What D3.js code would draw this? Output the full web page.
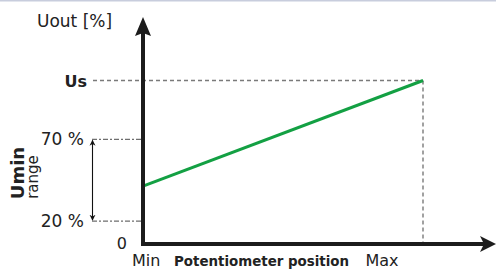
<!DOCTYPE html>
<html lang="en">
<head>
    <meta charset="UTF-8">
    <title>Uout vs potentiometer position</title>
    <script src="https://d3js.org/d3.v7.min.js"></script>
    <style>
        body { margin: 0; background: #fff; }
        svg { display: block; }
        svg text { font-family: "DejaVu Sans", "Liberation Sans", sans-serif; }
    </style>
</head>
<body>
    <svg id="chart" width="496" height="269"></svg>

    <script>
        // potentiometer position (0 = Min, 100 = Max) -> Uout in %
        let position = [0, 100];
        let uout = [41.4, 106];          // line starts at Umin, ends at Us
        let usLevel = 106;                // Us
        let rangeLevels = [70, 20];       // Umin range limits
        let rangeLabels = ["70 %", "20 %"];
        let xLabels = ["Min", "Max"];

        let svg = d3.select("#chart");
        let axisX = 143, axisY = 244;

        let x = d3.scaleLinear().domain([0, 100]).range([143, 423]);
        let y = d3.scaleLinear().domain([0, 100]).range([253.8, 90.3]);

        // thin border at top
        svg.append("rect").attr("x", 0).attr("y", 0).attr("width", 496).attr("height", 1.5)
            .attr("fill", "#c8cddd");

        // Us guide lines
        svg.append("line")
            .attr("x1", 93).attr("x2", x(100))
            .attr("y1", y(usLevel)).attr("y2", y(usLevel))
            .attr("stroke", "#7a7a7a").attr("stroke-width", 1.4)
            .attr("stroke-dasharray", "4,3");
        svg.append("line")
            .attr("x1", x(100)).attr("x2", x(100))
            .attr("y1", y(usLevel)).attr("y2", axisY)
            .attr("stroke", "#7a7a7a").attr("stroke-width", 1.4)
            .attr("stroke-dasharray", "4,3");

        // Umin range guides
        svg.selectAll(".range-guide")
            .data(rangeLevels)
            .enter()
            .append("line")
            .attr("class", "range-guide")
            .attr("x1", 92).attr("x2", axisX)
            .attr("y1", d => y(d)).attr("y2", d => y(d))
            .attr("stroke", "#6e6e6e").attr("stroke-width", 1.3)
            .attr("stroke-dasharray", "5,2,2,2");

        svg.selectAll(".range-label")
            .data(rangeLevels)
            .enter()
            .append("text")
            .attr("class", "range-label")
            .attr("x", 84)
            .attr("y", d => y(d) + 5.5)
            .attr("text-anchor", "end")
            .attr("font-size", 17)
            .attr("fill", "#222")
            .text((d, i) => rangeLabels[i]);

        // double arrow for the range
        let defs = svg.append("defs");
        defs.append("marker")
            .attr("id", "small-head")
            .attr("viewBox", "0 0 10 10")
            .attr("refX", 9).attr("refY", 5)
            .attr("markerWidth", 6).attr("markerHeight", 7)
            .attr("markerUnits", "userSpaceOnUse")
            .attr("orient", "auto-start-reverse")
            .append("path")
            .attr("d", "M0,0 L10,5 L0,10 L3,5 Z")
            .attr("fill", "#111");
        svg.append("line")
            .attr("x1", 92.5).attr("x2", 92.5)
            .attr("y1", y(rangeLevels[0]) + 1).attr("y2", y(rangeLevels[1]) - 1)
            .attr("stroke", "#111").attr("stroke-width", 1.1)
            .attr("marker-start", "url(#small-head)")
            .attr("marker-end", "url(#small-head)");

        // green characteristic
        let line = d3.line().x(d => x(d[0])).y(d => y(d[1]));
        svg.append("path")
            .datum(d3.zip(position, uout))
            .attr("d", line)
            .attr("fill", "none")
            .attr("stroke", "#13a043")
            .attr("stroke-width", 3);

        // axes with arrows
        svg.append("line")
            .attr("x1", axisX).attr("x2", axisX)
            .attr("y1", axisY + 2).attr("y2", 32)
            .attr("stroke", "#1c1c1c").attr("stroke-width", 4);
        svg.append("path")
            .attr("d", `M${axisX},17 L${axisX + 8},36 L${axisX},33 L${axisX - 8},36 Z`)
            .attr("fill", "#1c1c1c");
        svg.append("line")
            .attr("x1", axisX - 2).attr("x2", 484)
            .attr("y1", axisY).attr("y2", axisY)
            .attr("stroke", "#1c1c1c").attr("stroke-width", 4);
        svg.append("path")
            .attr("d", `M496,${axisY} L480,${axisY - 8} L484,${axisY} L480,${axisY + 8} Z`)
            .attr("fill", "#1c1c1c");

        // texts
        svg.append("text").attr("x", 37).attr("y", 27)
            .attr("font-size", 17).attr("fill", "#222").text("Uout [%]");
        svg.append("text").attr("x", 87).attr("y", y(usLevel) + 6.5)
            .attr("text-anchor", "end").attr("font-size", 16).attr("font-weight", "bold")
            .attr("fill", "#222").text("Us");
        svg.append("text").attr("x", 127).attr("y", 248.5)
            .attr("text-anchor", "end").attr("font-size", 16).attr("fill", "#222").text("0");

        svg.selectAll(".x-label")
            .data(xLabels)
            .enter()
            .append("text")
            .attr("class", "x-label")
            .attr("x", (d, i) => i === 0 ? x(0) - 11 : x(100) - 57.5)
            .attr("y", 265.5)
            .attr("font-size", 16)
            .attr("fill", "#222")
            .text(d => d);
        svg.append("text").attr("x", 174).attr("y", 265.5)
            .attr("font-size", 13.4).attr("font-weight", "bold")
            .attr("fill", "#222").text("Potentiometer position");

        svg.append("text")
            .attr("transform", "translate(23.5,173) rotate(-90)")
            .attr("text-anchor", "middle")
            .attr("font-size", 18).attr("font-weight", "bold")
            .attr("fill", "#222").text("Umin");
        svg.append("text")
            .attr("transform", "translate(38,177) rotate(-90)")
            .attr("text-anchor", "middle")
            .attr("font-size", 15)
            .attr("fill", "#222").text("range");
    </script>
</body>
</html>
